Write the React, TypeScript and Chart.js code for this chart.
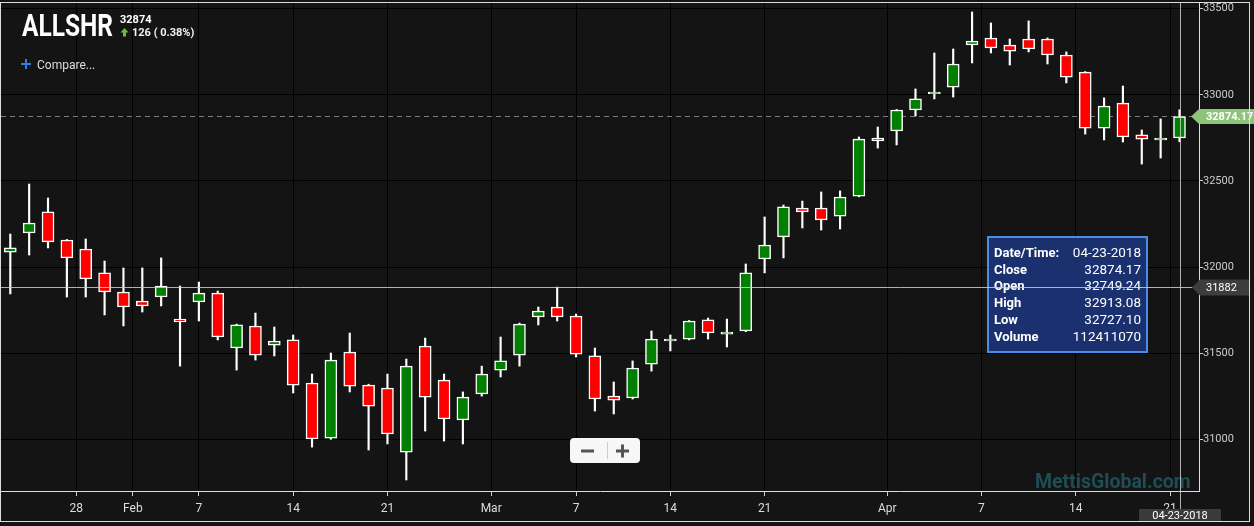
import React, { useEffect, useRef } from 'react';
import { Chart, registerables } from 'chart.js';

Chart.register(...registerables);

const SYMBOL = 'ALLSHR';
const LAST_PRICE = '32874';
const CHANGE_TEXT = '126 ( 0.38%)';
const COMPARE_TEXT = 'Compare...';
const WATERMARK = 'MettisGlobal.com';

const opens = [
  32087, 32198, 32320, 32157, 32105, 31966, 31855, 31803, 31826, 31698,
  31797, 31849, 31530, 31658, 31547, 31577, 31327, 31007, 31507, 31315,
  31298, 30926, 31542, 31344, 31112, 31263, 31402, 31489, 31710, 31768,
  31716, 31484, 31251, 31240, 31437, 31571, 31582, 31693, 31611, 31629,
  32047, 32175, 32343, 32343, 32296, 32412, 32749, 32790, 32912, 33005,
  33045, 33289, 33330, 33289, 33324, 33324, 33231, 33132, 32807, 32952,
  32767, 32738, 32749.24,
];
const highs = [
  32192, 32482, 32401, 32160, 32163, 32035, 31995, 31995, 32053, 31890,
  31913, 31861, 31669, 31733, 31652, 31606, 31379, 31501, 31617, 31320,
  31379, 31466, 31588, 31379, 31275, 31425, 31594, 31675, 31768, 31884,
  31727, 31530, 31333, 31455, 31629, 31606, 31690, 31704, 31698, 32018,
  32291, 32360, 32383, 32436, 32442, 32755, 32813, 32915, 33034, 33243,
  33266, 33481, 33417, 33324, 33429, 33330, 33249, 33135, 32982, 33051,
  32796, 32860, 32913.08,
];
const lows = [
  31844, 32070, 32111, 31826, 31826, 31722, 31658, 31739, 31774, 31425,
  31687, 31577, 31402, 31460, 31484, 31269, 30955, 31000, 31275, 30938,
  30973, 30764, 31048, 30990, 30973, 31251, 31362, 31425, 31664, 31687,
  31478, 31164, 31147, 31234, 31396, 31513, 31577, 31582, 31536, 31625,
  31966, 32053, 32227, 32215, 32221, 32408, 32691, 32709, 32877, 32976,
  32987, 33185, 33243, 33173, 33249, 33179, 33069, 32772, 32738, 32726,
  32598, 32633, 32727.1,
];
const closes = [
  32111, 32256, 32146, 32053, 31931, 31855, 31768, 31774, 31890, 31681,
  31849, 31594, 31664, 31489, 31571, 31315, 31002, 31460, 31309, 31193,
  31031, 31425, 31245, 31118, 31245, 31379, 31455, 31669, 31745, 31710,
  31495, 31234, 31228, 31414, 31582, 31582, 31687, 31617, 31623, 31966,
  32128, 32349, 32320, 32273, 32407, 32743, 32732, 32912, 32976, 33016,
  33179, 33312, 33272, 33254, 33266, 33231, 33103, 32807, 32935, 32755,
  32743, 32749, 32874.17,
];

const LAST_DATE = '04-23-2018';
const LAST_VOLUME = 112411070;
const CROSSHAIR_PRICE = 31882;

const xTickPositions = [3.5, 6.5, 10, 15, 20, 25.5, 30, 35, 40, 46.5, 51.5, 56.5, 61.5];
const xTickLabels = ['28', 'Feb', '7', '14', '21', 'Mar', '7', '14', '21', 'Apr', '7', '14', '21'];
const yTickValues = [31000, 31500, 32000, 32500, 33000, 33500];

const X_MIN = -0.493;
const X_MAX = 63.034;
const Y_MIN = 30700;
const Y_MAX = 33533;

const BG = '#141414';
const GREEN = '#007f00';
const RED = '#ff0000';

const noPad = (s: any) => {
  s.paddingTop = 0;
  s.paddingBottom = 0;
  s.paddingLeft = 0;
  s.paddingRight = 0;
};

const overlayPlugin = {
  id: 'overlay',
  beforeDraw(chart: any) {
    const { ctx, width, height } = chart;
    ctx.save();
    ctx.fillStyle = BG;
    ctx.fillRect(0, 0, width, height);
    ctx.restore();
  },
  beforeDatasetsDraw(chart: any) {
    const { ctx, chartArea: a, scales } = chart;
    const y = scales.y;
    ctx.save();
    ctx.font = 'bold 19.5px Roboto';
    ctx.fillStyle = '#1f4d56';
    ctx.textAlign = 'left';
    ctx.textBaseline = 'alphabetic';
    ctx.fillText(WATERMARK, 1035, 488);
    const py = Math.round(y.getPixelForValue(closes[closes.length - 1])) + 0.5;
    ctx.strokeStyle = '#7c7c7c';
    ctx.lineWidth = 1;
    ctx.setLineDash([5, 4]);
    ctx.beginPath();
    ctx.moveTo(a.left, py);
    ctx.lineTo(a.right, py);
    ctx.stroke();
    ctx.restore();
  },
  afterDraw(chart: any) {
    const { ctx, chartArea: a, scales } = chart;
    const x = scales.x;
    const y = scales.y;
    const n = closes.length - 1;
    ctx.save();

    // tooltip box
    const bx = 987, by = 236, bw = 161, bh = 117;
    ctx.fillStyle = 'rgba(28,52,118,0.93)';
    ctx.fillRect(bx, by, bw, bh);
    ctx.strokeStyle = '#4a8ce6';
    ctx.lineWidth = 2;
    ctx.strokeRect(bx + 1, by + 1, bw - 2, bh - 2);
    const rows: [string, string][] = [
      ['Date/Time:', LAST_DATE],
      ['Close', closes[n].toFixed(2)],
      ['Open', opens[n].toFixed(2)],
      ['High', highs[n].toFixed(2)],
      ['Low', lows[n].toFixed(2)],
      ['Volume', String(LAST_VOLUME)],
    ];
    ctx.fillStyle = '#ffffff';
    ctx.textBaseline = 'middle';
    rows.forEach(([k, v], i) => {
      const ty = 253.5 + i * 16.8;
      ctx.font = 'bold 13px Roboto';
      ctx.textAlign = 'left';
      ctx.fillText(k, 994, ty);
      ctx.font = '13.5px Roboto';
      ctx.textAlign = 'right';
      ctx.fillText(v, 1141, ty);
    });

    // crosshair
    const cx = Math.round(x.getPixelForValue(n)) + 0.5;
    const cy = Math.round(y.getPixelForValue(CROSSHAIR_PRICE)) + 0.5;
    ctx.strokeStyle = 'rgba(205,205,205,0.85)';
    ctx.lineWidth = 1;
    ctx.beginPath();
    ctx.moveTo(a.left, cy);
    ctx.lineTo(a.right, cy);
    ctx.moveTo(cx, a.top);
    ctx.lineTo(cx, 509);
    ctx.stroke();

    // last price label (green)
    const py = y.getPixelForValue(closes[n]);
    ctx.fillStyle = '#8cc47a';
    ctx.beginPath();
    ctx.moveTo(1191, py);
    ctx.lineTo(1199, py - 7.5);
    ctx.lineTo(1254, py - 7.5);
    ctx.lineTo(1254, py + 7.5);
    ctx.lineTo(1199, py + 7.5);
    ctx.closePath();
    ctx.fill();
    ctx.fillStyle = '#ffffff';
    ctx.font = 'bold 11px Roboto';
    ctx.textAlign = 'left';
    ctx.textBaseline = 'middle';
    ctx.fillText(closes[n].toFixed(2), 1206, py + 0.5);

    // crosshair price label (gray)
    ctx.fillStyle = '#3d3d3d';
    ctx.beginPath();
    ctx.moveTo(1192, cy);
    ctx.lineTo(1200, cy - 8);
    ctx.lineTo(1250, cy - 8);
    ctx.lineTo(1250, cy + 8);
    ctx.lineTo(1200, cy + 8);
    ctx.closePath();
    ctx.fill();
    ctx.fillStyle = '#ffffff';
    ctx.font = '11px Roboto';
    ctx.fillText(String(CROSSHAIR_PRICE), 1206, cy + 0.5);

    // date label
    ctx.fillStyle = '#3a3a3a';
    ctx.fillRect(1139, 509, 82, 13);
    ctx.fillStyle = '#ffffff';
    ctx.font = '11px Roboto';
    ctx.textAlign = 'center';
    ctx.fillText(LAST_DATE, 1180, 516);

    // header
    ctx.textAlign = 'left';
    ctx.textBaseline = 'alphabetic';
    ctx.save();
    ctx.translate(22, 36);
    ctx.scale(0.79, 1);
    ctx.font = 'bold 31px Roboto';
    ctx.fillStyle = '#ffffff';
    ctx.fillText(SYMBOL, 0, 0);
    ctx.restore();
    ctx.font = 'bold 11px Roboto';
    ctx.fillStyle = '#ffffff';
    ctx.fillText(LAST_PRICE, 120, 23);
    // up arrow
    ctx.fillStyle = '#6cbf3c';
    ctx.beginPath();
    ctx.moveTo(120.5, 32.5);
    ctx.lineTo(124.5, 28);
    ctx.lineTo(128.5, 32.5);
    ctx.closePath();
    ctx.fill();
    ctx.fillRect(123, 32, 3, 4.5);
    ctx.fillStyle = '#f2f2f2';
    ctx.font = 'bold 11px Roboto';
    ctx.fillText(CHANGE_TEXT, 132, 36);
    // compare
    ctx.strokeStyle = '#2f7de1';
    ctx.lineWidth = 2;
    ctx.beginPath();
    ctx.moveTo(21, 64);
    ctx.lineTo(31, 64);
    ctx.moveTo(26, 59);
    ctx.lineTo(26, 69);
    ctx.stroke();
    ctx.fillStyle = '#dddddd';
    ctx.font = '12px Roboto';
    ctx.fillText(COMPARE_TEXT, 37, 69);

    // zoom buttons
    ctx.fillStyle = '#f7f7f7';
    ctx.beginPath();
    (ctx as any).roundRect(570, 438, 70, 25, 4);
    ctx.fill();
    ctx.strokeStyle = '#cccccc';
    ctx.lineWidth = 1;
    ctx.beginPath();
    ctx.moveTo(607.5, 442);
    ctx.lineTo(607.5, 459);
    ctx.stroke();
    ctx.strokeStyle = '#555555';
    ctx.lineWidth = 3;
    ctx.beginPath();
    ctx.moveTo(581, 451);
    ctx.lineTo(594, 451);
    ctx.moveTo(616, 451);
    ctx.lineTo(629, 451);
    ctx.moveTo(622.5, 444.5);
    ctx.lineTo(622.5, 457.5);
    ctx.stroke();

    // outer frame
    ctx.strokeStyle = '#dddddd';
    ctx.lineWidth = 1;
    ctx.strokeRect(0.5, 2.5, 1249, 519);

    ctx.restore();
  },
};

export default function App() {
  const ref = useRef<HTMLCanvasElement | null>(null);

  useEffect(() => {
    if (!ref.current) return;
    Chart.defaults.font.family = 'Roboto';
    const bodies = opens.map((o, i) => ({ x: i, y: [o, closes[i]] }));
    const wicks = lows.map((l, i) => ({ x: i, y: [l, highs[i]] }));
    const bodyColors = opens.map((o, i) => (closes[i] >= o ? GREEN : RED));

    const chart = new Chart(ref.current, {
      type: 'bar',
      data: {
        datasets: [
          {
            label: 'body',
            data: bodies as any,
            backgroundColor: bodyColors,
            borderColor: '#ffffff',
            borderWidth: 1.5,
            borderSkipped: false,
            barThickness: 12,
            grouped: false,
            order: 1,
          } as any,
          {
            label: 'wick',
            data: wicks as any,
            backgroundColor: '#ffffff',
            borderWidth: 0,
            barThickness: 1.5,
            grouped: false,
            order: 2,
          } as any,
        ],
      },
      options: {
        responsive: false,
        animation: false,
        devicePixelRatio: 1,
        events: [],
        layout: { padding: { left: 1, top: 3, right: 0, bottom: 0 } },
        plugins: { legend: { display: false }, tooltip: { enabled: false } },
        scales: {
          x: {
            type: 'linear',
            position: 'bottom',
            min: X_MIN,
            max: X_MAX,
            offset: false,
            bounds: 'data',
            afterBuildTicks: (s: any) => {
              s.ticks = xTickPositions.map((v) => ({ value: v }));
            },
            afterFit: (s: any) => {
              s.height = 35;
              noPad(s);
            },
            grid: {
              color: '#000000',
              lineWidth: 1,
              offset: false,
              drawTicks: true,
              tickLength: 5,
              tickColor: '#cccccc',
            },
            border: { display: true, color: '#dddddd', width: 1 },
            ticks: {
              autoSkip: false,
              maxRotation: 0,
              minRotation: 0,
              padding: 6,
              color: '#dddddd',
              font: { size: 12 },
              callback: (_v: any, i: number) => xTickLabels[i],
            },
          } as any,
          y: {
            type: 'linear',
            position: 'right',
            min: Y_MIN,
            max: Y_MAX,
            bounds: 'data',
            afterBuildTicks: (s: any) => {
              s.ticks = yTickValues.map((v) => ({ value: v }));
            },
            afterFit: (s: any) => {
              s.width = 55;
              noPad(s);
            },
            grid: {
              color: '#000000',
              lineWidth: 1,
              drawTicks: true,
              tickLength: 4,
              tickColor: '#cccccc',
            },
            border: { display: true, color: '#dddddd', width: 1 },
            ticks: {
              padding: 0,
              color: '#cccccc',
              font: { size: 11 },
              crossAlign: 'near',
              callback: (v: any) => String(v),
            },
          } as any,
        },
      },
      plugins: [overlayPlugin],
    });
    return () => chart.destroy();
  }, []);

  return (
    <div style={{ position: 'fixed', left: 0, top: 0, width: 1254, height: 526, background: BG }}>
      <canvas ref={ref} width={1254} height={526} style={{ display: 'block' }} />
    </div>
  );
}
